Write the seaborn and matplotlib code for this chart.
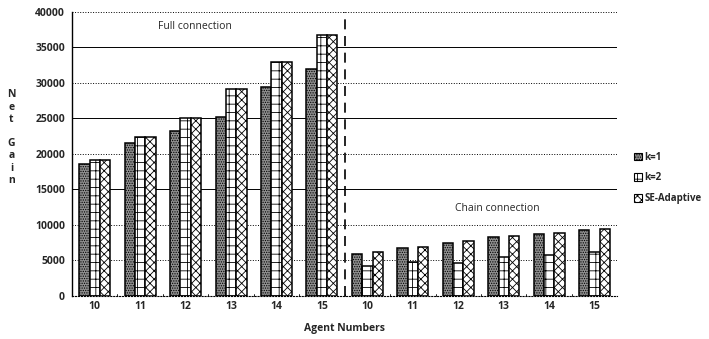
import pandas as pd
import numpy as np
import matplotlib
matplotlib.use('Agg')
import matplotlib.pyplot as plt
import seaborn as sns
from matplotlib.patches import Patch

# Data
agents = ['10', '11', '12', '13', '14', '15']
series = ['k=1', 'k=2', 'SE-Adaptive']
full_k1 = [18600, 21500, 23200, 25200, 29400, 32000]
full_k2 = [19200, 22400, 25100, 29200, 32900, 36800]
full_se = [19200, 22400, 25100, 29200, 32900, 36800]
chain_k1 = [5900, 6800, 7400, 8300, 8700, 9300]
chain_k2 = [4200, 4800, 4600, 5500, 5700, 6200]
chain_se = [6200, 6900, 7700, 8400, 8800, 9400]

# long form table, one slot per (connection, agents)
slots = ['F' + a for a in agents] + ['C' + a for a in agents]
rows = []
for s, vals in zip(series, [full_k1 + chain_k1, full_k2 + chain_k2, full_se + chain_se]):
    for slot, v in zip(slots, vals):
        rows.append({'slot': slot, 'series': s, 'gain': v})
df = pd.DataFrame(rows)

sns.set_style('white')
plt.rcParams['font.family'] = ['Open Sans', 'DejaVu Sans']
plt.rcParams['hatch.linewidth'] = 0.6

fig = plt.figure(figsize=(7.09, 3.39), dpi=100)
ax = fig.add_axes([0.1016, 0.127, 0.769, 0.838])

sns.barplot(data=df, x='slot', y='gain', hue='series', order=slots,
            hue_order=series, width=0.68, ax=ax, legend=False,
            edgecolor='black', linewidth=1.1)

faces = ['#8f8f8f', 'white', 'white']
hatches = ['.......', '++', 'xxxx']
for cont, fc, h in zip(ax.containers, faces, hatches):
    for bar in cont:
        bar.set_facecolor(fc)
        bar.set_hatch(h)
        bar.set_edgecolor('black')

ax.set_ylim(0, 40000)
ax.set_xlim(-0.5, len(slots) - 0.5)
ax.set_yticks(range(0, 40001, 5000))
ax.set_xticks(range(len(slots)))
ax.set_xticklabels(agents + agents, fontsize=7.5, fontweight='bold')
ax.tick_params(axis='y', labelsize=7.5, length=3, direction='inout', width=0.8)
ax.tick_params(axis='x', length=0)
for lbl in ax.get_yticklabels():
    lbl.set_fontweight('bold')

# gridlines: alternate dotted / solid
for y in range(5000, 40001, 5000):
    style = '-' if y in (15000, 25000, 35000) else ':'
    ax.axhline(y, color='black', lw=0.7, ls=style, zorder=0)

# small tick marks between groups on the baseline
for xb in np.arange(0.5, len(slots) - 0.5, 1.0):
    ax.plot([xb, xb], [0, 300], color='black', lw=0.6, clip_on=False)

ax.axvline(5.5, color='black', lw=1.2, ls=(0, (6, 4)))

for side in ['top', 'right']:
    ax.spines[side].set_visible(False)
ax.spines['left'].set_color('black')
ax.spines['left'].set_linewidth(1.0)
ax.spines['bottom'].set_color('black')
ax.spines['bottom'].set_linewidth(0.8)
ax.spines['bottom'].set_linestyle(':')

ax.set_xlabel('Agent Numbers', fontsize=7.5, fontweight='bold', labelpad=8)
ax.set_ylabel('')
fig.text(0.016, 0.594, 'N\ne\nt\n\nG\na\ni\nn', fontsize=7.5, fontweight='bold',
         ha='center', va='center', linespacing=1.15)

ax.text(2.2, 37900, 'Full connection', fontsize=7.5, ha='center', va='center')
ax.text(8.85, 12300, 'Chain connection', fontsize=7.5, ha='center', va='center')

handles = [Patch(facecolor=fc, edgecolor='black', hatch=h, lw=0.8)
           for fc, h in zip(faces, hatches)]
fig.legend(handles, series, loc='center left', bbox_to_anchor=(0.894, 0.475),
           frameon=False, handlelength=0.8, handleheight=0.8, borderpad=0,
           borderaxespad=0, handletextpad=0.3, labelspacing=1.0,
           prop={'weight': 'bold', 'size': 7})

fig.savefig('out.png', dpi=100)
